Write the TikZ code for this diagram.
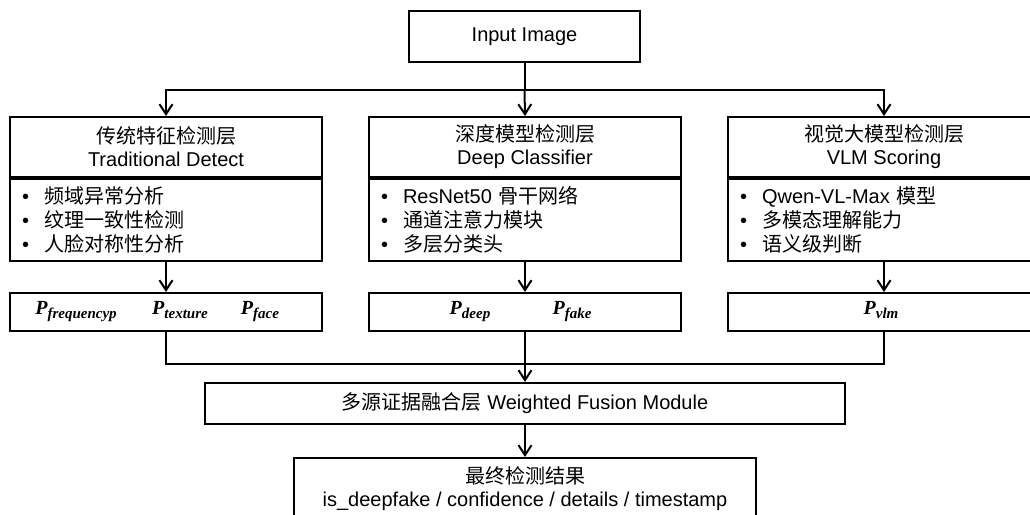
\documentclass[tikz,border=0pt]{standalone}
\usepackage{fontspec}
\setmainfont{Liberation Sans}
\newfontfamily\zh{Noto Sans CJK SC}
\newfontfamily\pserif{Liberation Serif}
\usetikzlibrary{arrows.meta,positioning}

\newcommand\dotitem{\textbullet\hspace{15pt}}
% bold italic score symbol with its subscript
\newcommand\pscore[1]{{\pserif\bfseries\itshape P\raisebox{-4.5pt}{\fontsize{15pt}{15pt}\selectfont #1}}}

\tikzset{
  box/.style={draw, line width=2pt, align=center, inner sep=0pt, font=\fontsize{20pt}{23pt}\selectfont},
  layer/.style={box, minimum width=312pt, minimum height=60pt},
  items/.style={box, minimum height=82pt, text width=288pt, inner xsep=12pt, align=left, font=\fontsize{20pt}{24pt}\selectfont},
  prob/.style={box, minimum width=312pt, minimum height=38pt},
  plab/.style={anchor=base, inner sep=0pt, font=\fontsize{20pt}{22pt}\selectfont},
  link/.style={line width=2pt},
  arr/.style={link, -{Straight Barb[length=10pt,width=13pt,line width=2pt]}},
}

\begin{document}
\begin{tikzpicture}[x=1pt, y=-1pt]
\useasboundingbox (0,0) rectangle (1030,514);

\node[box, minimum width=231pt, minimum height=51pt] (input) at (524.5,36.5) {Input Image};

% three detection layers
\node[layer] (tradHead) at (166,147) {{\zh 传统特征检测层}\\Traditional Detect};
\node[items, below=0pt of tradHead] (tradList) {\dotitem{\zh 频域异常分析}\\\dotitem{\zh 纹理一致性检测}\\\dotitem{\zh 人脸对称性分析}};

\node[layer] (deepHead) at (525,147) {{\zh 深度模型检测层}\\Deep Classifier};
\node[items, below=0pt of deepHead] (deepList) {\dotitem ResNet50 {\zh 骨干网络}\\\dotitem{\zh 通道注意力模块}\\\dotitem{\zh 多层分类头}};

\node[layer] (vlmHead) at (884,147) {{\zh 视觉大模型检测层}\\VLM Scoring};
\node[items, below=0pt of vlmHead] (vlmList) {\dotitem Qwen-VL-Max {\zh 模型}\\\dotitem{\zh 多模态理解能力}\\\dotitem{\zh 语义级判断}};

% scores
\node[prob] (tradP) at (166,312) {};
\node[plab] (pFreq) at (76,314) {\pscore{frequencyp}};
\node[plab] (pTex) at (180,314) {\pscore{texture}};
\node[plab] (pFace) at (260,314) {\pscore{face}};

\node[prob] (deepP) at (525,312) {};
\node[plab] (pDeep) at (470,314) {\pscore{deep}};
\node[plab] (pFake) at (572,314) {\pscore{fake}};

\node[prob] (vlmP) at (884,312) {};
\node[plab] (pVlm) at (881,314) {\pscore{vlm}};

\node[box, minimum width=640pt, minimum height=41pt] (fusion) at (525,403.5) {{\zh 多源证据融合层} Weighted Fusion Module};
\node[box, minimum width=462pt, minimum height=62pt] (result) at (525,489) {{\zh 最终检测结果}\\is\_deepfake / confidence / details / timestamp};

\coordinate (split) at (input.south |- 0,90);
\coordinate (merge) at (deepP.south |- 0,364);

\draw[link] (input.south) -- (split);
\draw[arr] (split) -| (tradHead.north);
\draw[arr] (split) -- (deepHead.north);
\draw[arr] (split) -| (vlmHead.north);

\draw[arr] (tradList.south) -- (tradP.north);
\draw[arr] (deepList.south) -- (deepP.north);
\draw[arr] (vlmList.south) -- (vlmP.north);

\draw[link] (tradP.south) |- (merge);
\draw[link] (vlmP.south) |- (merge);
\draw[arr] (deepP.south) -- (fusion.north);
\draw[arr] (fusion.south) -- (result.north);
\end{tikzpicture}
\end{document}
